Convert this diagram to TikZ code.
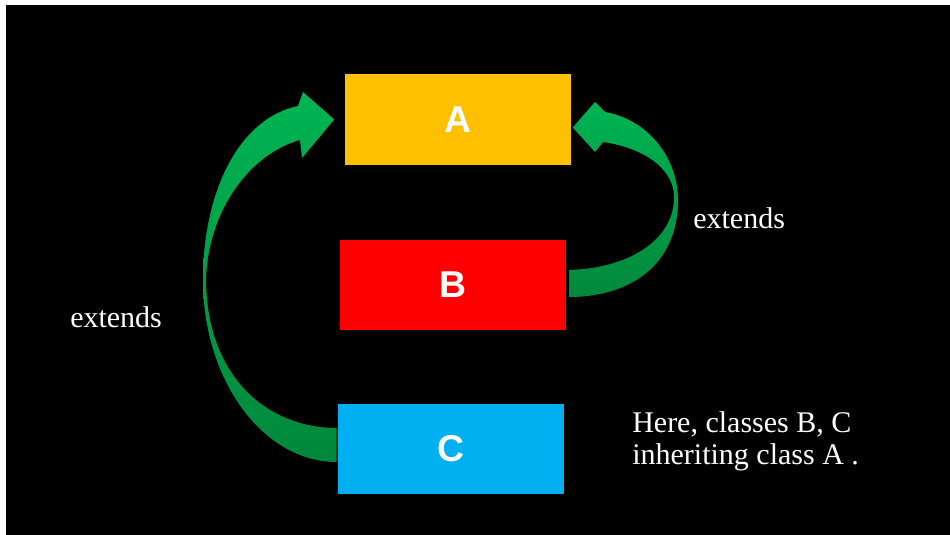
\documentclass[tikz,border=0pt]{standalone}
\usepackage{fontspec}
\setmainfont{Liberation Serif}
\newfontfamily\boxfont{Liberation Sans}
\usetikzlibrary{calc}
\usetikzlibrary{positioning}
\definecolor{clsA}{RGB}{255,192,0}
\definecolor{clsB}{RGB}{255,0,0}
\definecolor{clsC}{RGB}{0,176,240}
\definecolor{extTop}{RGB}{0,180,82}
\definecolor{extBot}{RGB}{0,136,60}
\tikzset{
  classbox/.style={minimum width=169.5pt,minimum height=67.5pt,inner sep=0pt,text=white,
    font=\boxfont\bfseries\fontsize{28}{28}\selectfont},
  extarrow/.style={top color=extTop,bottom color=extBot,draw=none},
  note/.style={text=white,inner sep=0pt,font=\fontsize{22.5}{24}\selectfont}
}

\begin{document}
\begin{tikzpicture}[x=0.75pt,y=0.75pt,yscale=-1,xscale=1]
        \useasboundingbox (0,0) rectangle (950,535);
        \fill[white] (0,0) rectangle (950,535);
        \fill[black] (6,5) rectangle (950,535);

        %Shape: Rectangle [class A]
        \node [classbox,fill=clsA] (a) at (457.5,119.5) {A};
        %Shape: Rectangle [class B]
        \node [classbox,fill=clsB] (b) at (453,285) {B};
        %Shape: Rectangle [class C]
        \node [classbox,fill=clsC] (c) at (451,449) {C};

        %Curved Arrow [C extends A]
        \path [extarrow] ($(c.west)+(-1,13)$) .. controls (263,462) and (203,380) .. (203,280)
            .. controls (203,190) and (240,118) .. (298,106)
            -- (303,92) -- ($(a.west)+(-10,0)$) -- (302,158) -- (300,140)
            .. controls (252,153) and (208,208) .. (206,280)
            .. controls (207,380) and (270,428) .. ($(c.west)+(-1,-21)$) -- cycle;
        %Curved Arrow [B extends A]
        \path [extarrow] ($(b.east)+(3,-15)$) .. controls (630,268) and (672,240) .. (674,200)
            .. controls (676,170) and (645,148) .. (603,142)
            -- (595,152) -- ($(a.east)+(2,8)$) -- (595,102) -- (605,112)
            .. controls (650,120) and (678,160) .. (678,200)
            .. controls (678,265) and (630,297) .. ($(b.east)+(3,12)$) -- cycle;

        % Text Node
        \node [note,anchor=base west] (extC) at (70,327) {extends};
        % Text Node
        \node [note,anchor=base west] (extB) at (693,228) {extends};
        % Text Node
        \node [note,anchor=base west,align=left] (remark) at (632,464) {Here, classes B, C\\inheriting class A .};
\end{tikzpicture}
\end{document}
